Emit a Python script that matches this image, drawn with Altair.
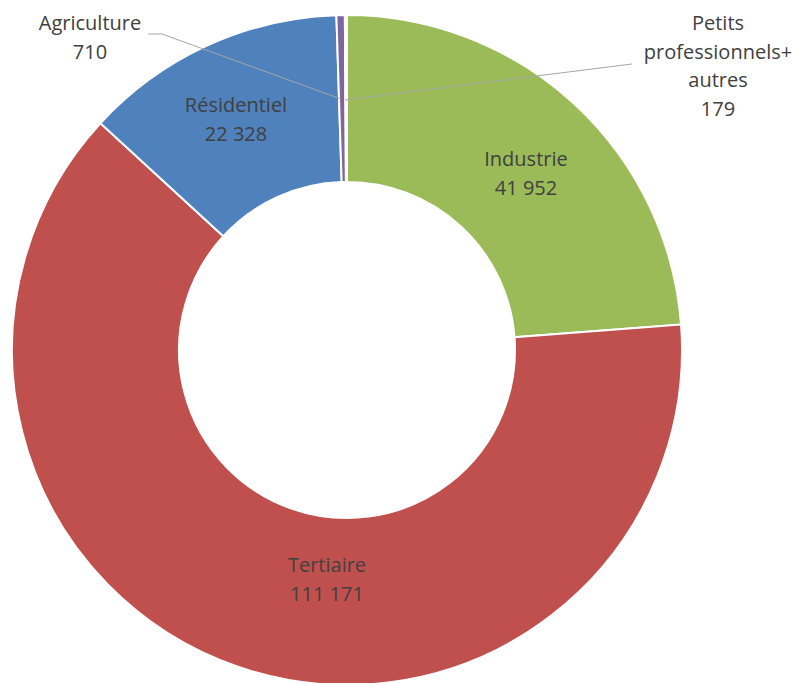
import altair as alt
import pandas as pd

# ---- data ----
categories = ["Industrie", "Tertiaire", "Résidentiel", "Agriculture", "Petits professionnels+ autres"]
values = [41952, 111171, 22328, 710, 179]
label_names = ["Industrie", "Tertiaire", "Résidentiel", "Agriculture", "Petits\nprofessionnels+\nautres"]
colors = ["#9BBB59", "#C0504D", "#4F81BD", "#8064A2", "#4BACC6"]

# ---- layout (plot coordinates) ----
CX, CY = 339, 342
R_OUT, R_IN = 335, 168
label_xy = [(518, 158), (319, 564), (228, 104), (82, 22), (710, 22)]

def fmt(v):
    return f"{v:,}".replace(",", " ")

df = pd.DataFrame({
    "category": categories,
    "value": values,
    "order": list(range(len(categories))),
    "label": [f"{n}\n{fmt(v)}" for n, v in zip(label_names, values)],
    "lx": [p[0] for p in label_xy],
    "ly": [p[1] for p in label_xy],
})

color_scale = alt.Scale(domain=categories, range=colors)

arcs = alt.Chart(df).mark_arc(
    outerRadius=R_OUT, innerRadius=R_IN, stroke="white", strokeWidth=2
).encode(
    theta=alt.Theta("value:Q", stack=True),
    color=alt.Color("category:N", scale=color_scale, legend=None),
    order=alt.Order("order:Q"),
    x=alt.value(CX),
    y=alt.value(CY),
)

leader_color = "#A6A6A6"
lines_df = pd.DataFrame({
    "x": [140, 154, 624],
    "y": [26, 26, 56],
    "x2": [154, 333, 337],
    "y2": [26, 91, 92],
})
leaders = alt.Chart(lines_df).mark_rule(color=leader_color, strokeWidth=1).encode(
    x=alt.X("x:Q", scale=None),
    y=alt.Y("y:Q", scale=None),
    x2="x2:Q",
    y2="y2:Q",
)

texts = alt.Chart(df).mark_text(
    font="Open Sans", fontSize=20, color="#404040", align="center",
    baseline="alphabetic", lineBreak="\n", lineHeight=28.5
).encode(
    x=alt.X("lx:Q", scale=None),
    y=alt.Y("ly:Q", scale=None),
    text="label:N",
)

chart = alt.layer(arcs, leaders, texts).properties(
    width=785, height=675, autosize="none", padding=0
).configure_view(stroke=None)

chart.save("out.html", embed_options={"renderer": "svg", "actions": False})
